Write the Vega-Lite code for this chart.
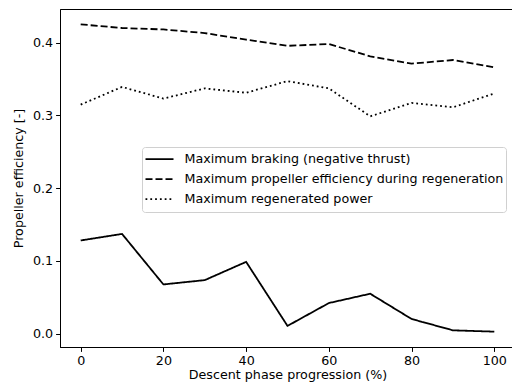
{
  "$schema": "https://vega.github.io/schema/vega-lite/v6.json",
  "autosize": {"type": "none"},
  "padding": {"left": 60, "top": 9, "right": 0, "bottom": 42},
  "width": 455,
  "height": 338,
  "background": "white",
  "config": {
    "font": "DejaVu Sans",
    "view": {"stroke": "#000", "strokeWidth": 1},
    "axis": {
      "grid": false,
      "domainColor": "#000",
      "domainWidth": 1,
      "tickColor": "#000",
      "tickWidth": 1,
      "tickSize": 4.4,
      "labelFontSize": 12.7,
      "labelColor": "#000",
      "titleFontSize": 12.7,
      "titleFontWeight": "normal",
      "titleColor": "#000",
      "labelPadding": 3
    }
  },
  "data": {
    "values": [
      {"p": 0, "v": 0.128, "s": "Maximum braking (negative thrust)"},
      {"p": 10, "v": 0.137, "s": "Maximum braking (negative thrust)"},
      {"p": 20, "v": 0.0676, "s": "Maximum braking (negative thrust)"},
      {"p": 30, "v": 0.0735, "s": "Maximum braking (negative thrust)"},
      {"p": 40, "v": 0.0986, "s": "Maximum braking (negative thrust)"},
      {"p": 50, "v": 0.0106, "s": "Maximum braking (negative thrust)"},
      {"p": 60, "v": 0.042, "s": "Maximum braking (negative thrust)"},
      {"p": 70, "v": 0.0548, "s": "Maximum braking (negative thrust)"},
      {"p": 80, "v": 0.0201, "s": "Maximum braking (negative thrust)"},
      {"p": 90, "v": 0.0045, "s": "Maximum braking (negative thrust)"},
      {"p": 100, "v": 0.0027, "s": "Maximum braking (negative thrust)"},
      {"p": 0, "v": 0.425, "s": "Maximum propeller efficiency during regeneration"},
      {"p": 10, "v": 0.42, "s": "Maximum propeller efficiency during regeneration"},
      {"p": 20, "v": 0.418, "s": "Maximum propeller efficiency during regeneration"},
      {"p": 30, "v": 0.413, "s": "Maximum propeller efficiency during regeneration"},
      {"p": 40, "v": 0.404, "s": "Maximum propeller efficiency during regeneration"},
      {"p": 50, "v": 0.3955, "s": "Maximum propeller efficiency during regeneration"},
      {"p": 60, "v": 0.398, "s": "Maximum propeller efficiency during regeneration"},
      {"p": 70, "v": 0.381, "s": "Maximum propeller efficiency during regeneration"},
      {"p": 80, "v": 0.371, "s": "Maximum propeller efficiency during regeneration"},
      {"p": 90, "v": 0.376, "s": "Maximum propeller efficiency during regeneration"},
      {"p": 100, "v": 0.366, "s": "Maximum propeller efficiency during regeneration"},
      {"p": 0, "v": 0.3147, "s": "Maximum regenerated power"},
      {"p": 10, "v": 0.339, "s": "Maximum regenerated power"},
      {"p": 20, "v": 0.323, "s": "Maximum regenerated power"},
      {"p": 30, "v": 0.337, "s": "Maximum regenerated power"},
      {"p": 40, "v": 0.331, "s": "Maximum regenerated power"},
      {"p": 50, "v": 0.347, "s": "Maximum regenerated power"},
      {"p": 60, "v": 0.337, "s": "Maximum regenerated power"},
      {"p": 70, "v": 0.2986, "s": "Maximum regenerated power"},
      {"p": 80, "v": 0.317, "s": "Maximum regenerated power"},
      {"p": 90, "v": 0.311, "s": "Maximum regenerated power"},
      {"p": 100, "v": 0.33, "s": "Maximum regenerated power"}
    ]
  },
  "mark": {"type": "line", "color": "#000", "strokeWidth": 1.8},
  "encoding": {
    "x": {
      "field": "p",
      "type": "quantitative",
      "scale": {"domain": [-5, 105], "nice": false, "zero": false},
      "axis": {"values": [0, 20, 40, 60, 80, 100], "title": "Descent phase progression (%)", "titlePadding": 1}
    },
    "y": {
      "field": "v",
      "type": "quantitative",
      "scale": {"domain": [-0.0184, 0.4461], "nice": false, "zero": false},
      "axis": {"values": [0, 0.1, 0.2, 0.3, 0.4], "format": ".1f", "title": "Propeller efficiency [-]", "titlePadding": 7}
    },
    "strokeDash": {
      "field": "s",
      "type": "nominal",
      "scale": {
        "domain": ["Maximum braking (negative thrust)", "Maximum propeller efficiency during regeneration", "Maximum regenerated power"],
        "range": [[1, 0], [7, 3], [1.8, 3]]
      },
      "legend": {
        "title": null,
        "orient": "none",
        "legendX": 82,
        "legendY": 138,
        "symbolType": "stroke",
        "symbolSize": 784,
        "symbolStrokeColor": "#000",
        "symbolStrokeWidth": 1.8,
        "labelFontSize": 12.7,
        "labelColor": "#000",
        "labelLimit": 500,
        "strokeColor": "#d0d0d0",
        "fillColor": "white",
        "cornerRadius": 3,
        "padding": 2.5,
        "clipHeight": 19.2,
        "rowPadding": 0,
        "labelOffset": 10
      }
    }
  }
}
